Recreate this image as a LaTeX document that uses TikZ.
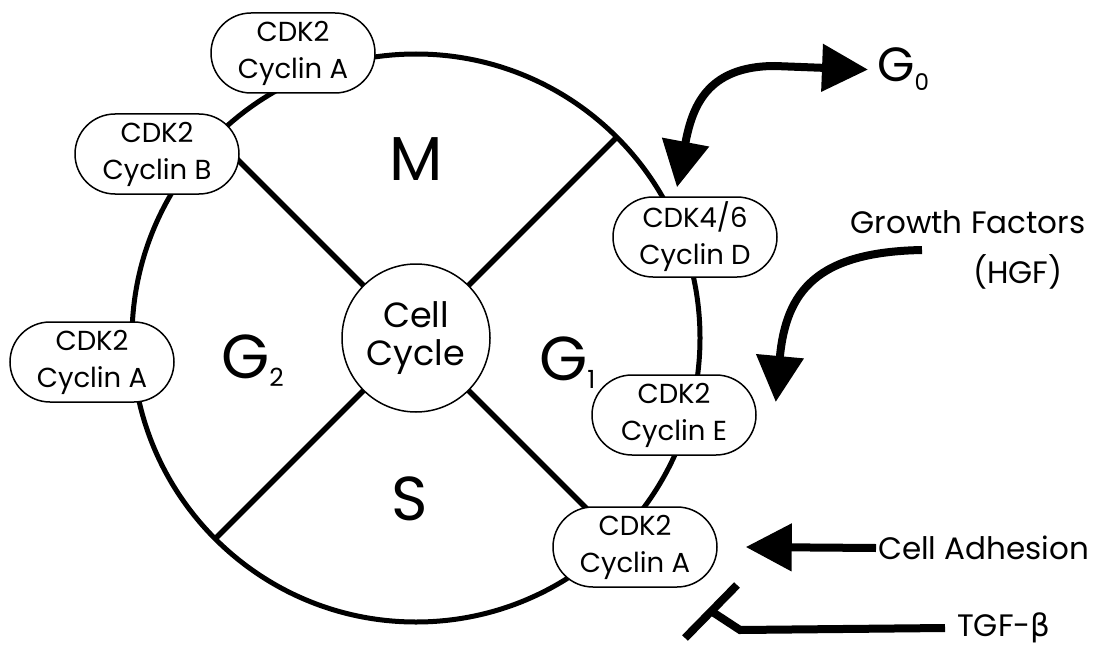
\documentclass[tikz,border=0pt]{standalone}
\usepackage{fontspec}
\setmainfont{Poppins}
\newfontfamily\greekfont{DejaVu Sans}
\usetikzlibrary{arrows.meta,shapes.misc}
\tikzset{
  enz/.style={rounded rectangle, draw, line width=1.5pt, fill=white,
    minimum width=164pt, minimum height=80pt, inner sep=0pt, align=center,
    font=\fontsize{27.5}{37}\selectfont},
  ring/.style={line width=5pt},
  spoke/.style={line width=5.5pt},
  phase/.style={inner sep=0pt, font=\fontsize{62}{62}\selectfont},
  lbl/.style={inner sep=0pt, font=\fontsize{31}{36}\selectfont, align=center},
  fat/.style={line width=8pt},
  tip/.tip={Triangle[length=46pt,width=46pt]},
  cellc/.style={circle, draw, line width=1.5pt, fill=white, minimum size=148pt,
    inner sep=0pt, align=center, font=\fontsize{35}{38}\selectfont}
}
\newcommand{\subsc}[1]{\raisebox{-8pt}{\fontsize{25}{25}\selectfont #1}}
\begin{document}
\begin{tikzpicture}[x=1pt,y=-1pt]
\useasboundingbox (0,0) rectangle (1108,650);
\coordinate (ctr) at (416,338);
\draw[ring] (ctr) circle[radius=284pt];
\foreach \a in {45,135,225,315} \draw[spoke] (ctr) -- ++(\a:284pt);
\node[cellc] (cc) at (ctr) {Cell\\Cycle};
% phase labels
\node[phase, anchor=base] (m) at (416,180) {M};
\node[phase, anchor=base] (s) at (410,520) {S};
\node[phase, anchor=base west] (g2) at (221,378) {G\subsc{2}};
\node[phase, anchor=base west] (g1) at (539,380) {G\subsc{1}};
% enzyme complexes
\node[enz] (cdkAtop) at (293,53) {CDK2\\Cyclin A};
\node[enz] (cdkB) at (157,154) {CDK2\\Cyclin B};
\node[enz] (cdkAleft) at (92,362) {CDK2\\Cyclin A};
\node[enz] (cdkD) at (695,237) {CDK4/6\\Cyclin D};
\node[enz] (cdkE) at (674,415) {CDK2\\Cyclin E};
\node[enz] (cdkAbot) at (635,547) {CDK2\\Cyclin A};
% G0
\node[inner sep=0pt, anchor=base west, font=\fontsize{48}{48}\selectfont] (g0) at (877,82) {G\raisebox{-9pt}{\fontsize{23}{23}\selectfont 0}};
\draw[fat, tip-tip] ([shift={(-18,-9)}]cdkD.north) .. controls (692,108) and (706,66) .. (775,66) -- ([xshift=-9]g0.west);
% growth factors
\node[lbl] (gf) at (968,222) {Growth Factors};
\node[lbl] (hgf) at (1018,272) {(HGF)};
\coordinate (gfs) at (922,250);
\draw[fat, -tip] (gfs) .. controls (818,252) and (786,290) .. ([shift={(19,-13)}]cdkE.east);
% cell adhesion
\node[lbl, anchor=west, inner sep=2pt] (adh) at (876,548) {Cell Adhesion};
\draw[fat, -tip] (adh.west) -- ([xshift=28]cdkAbot.east);
% TGF-beta
\node[lbl, anchor=west, inner sep=2pt] (tgf) at (955,628) {TGF-{\greekfont β}};
\coordinate (tbend) at (740,630);
\coordinate (tbar) at (711,611);
\draw[fat] ([xshift=-10]tgf.west) -- (tbend) -- (tbar);
\draw[fat] ([shift={(-26,27)}]tbar) -- ([shift={(26,-26)}]tbar);
\end{tikzpicture}
\end{document}
